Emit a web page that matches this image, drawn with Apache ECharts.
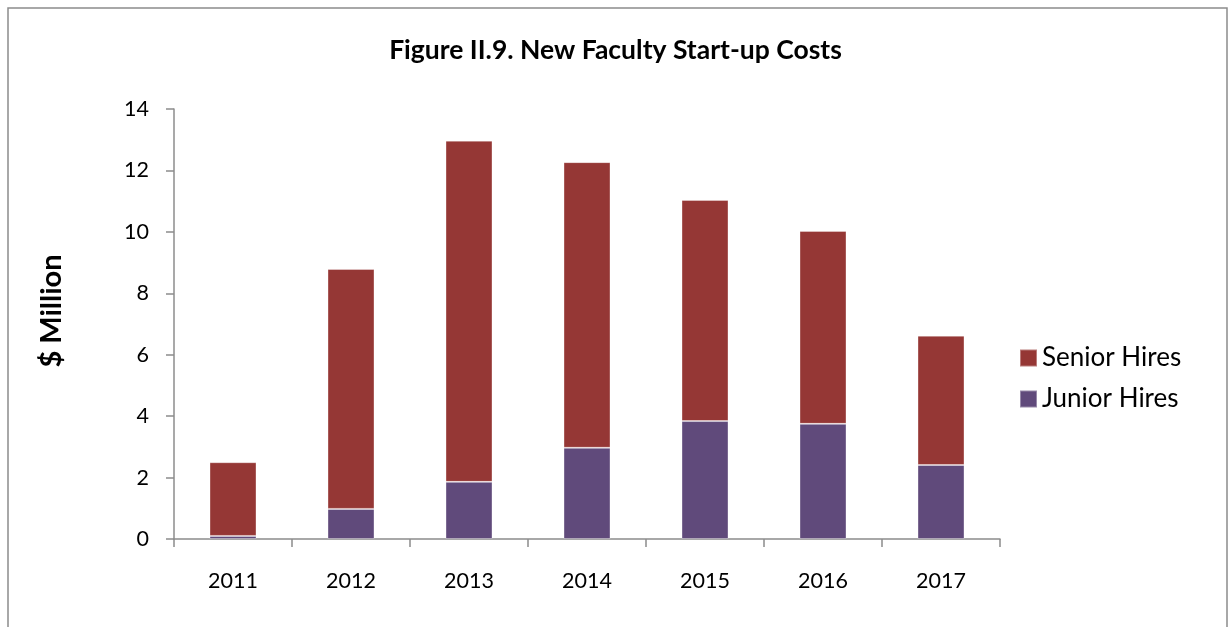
<!DOCTYPE html>
<html><head><meta charset="utf-8">
<script src="https://cdn.jsdelivr.net/npm/echarts@6/dist/echarts.min.js"></script>
<style>html,body{margin:0;padding:0;background:#fff}#c{width:1231px;height:627px}</style>
</head><body><div id="c"></div>
<script>
const years = ['2011','2012','2013','2014','2015','2016','2017'];
const juniorHires = [0.10, 0.98, 1.86, 2.97, 3.84, 3.75, 2.41];
const seniorHires = [2.40, 7.81, 11.11, 9.30, 7.20, 6.28, 4.21];
const yTicks = [0, 2, 4, 6, 8, 10, 12, 14];

const font = 'Lato, "Open Sans", sans-serif';
const chart = echarts.init(document.getElementById('c'));
chart.setOption({
  animation: false,
  backgroundColor: '#fff',
  title: {
    text: 'Figure II.9. New Faculty Start-up Costs',
    left: 'center', top: 32,
    textStyle: {fontFamily: font, fontWeight: 'bold', fontSize: 26.5, color: '#000'}
  },
  graphic: [
    {type: 'polyline', shape: {points: [[8, 627], [8, 8], [1227, 8], [1227, 627]]},
     style: {stroke: '#8c8c8c', lineWidth: 1.5, fill: null}, silent: true},
    {type: 'text', x: 52, y: 311, rotation: Math.PI / 2,
     style: {text: '$ Million', fontFamily: font, fontWeight: 'bold', fontSize: 29, fill: '#000',
             align: 'center', verticalAlign: 'middle'}, silent: true}
  ],
  legend: {
    orient: 'vertical', left: 1014, top: 340, itemGap: 15,
    itemWidth: 17, itemHeight: 17, icon: 'rect',
    data: ['Senior Hires', 'Junior Hires'],
    textStyle: {fontFamily: font, fontSize: 26, color: '#000', padding: [0, 0, 0, 0]}
  },
  grid: {left: 174, right: 231, top: 109, bottom: 88, containLabel: false},
  xAxis: {
    type: 'category', data: years,
    axisLine: {lineStyle: {color: '#8c8c8c', width: 1.5}},
    axisTick: {show: true, length: 8, alignWithLabel: false, lineStyle: {color: '#8c8c8c', width: 1.5}},
    axisLabel: {fontFamily: font, fontSize: 21.5, color: '#000', margin: 31}
  },
  yAxis: {
    type: 'value', min: 0, max: 14, interval: 2,
    axisLine: {show: true, lineStyle: {color: '#8c8c8c', width: 1.5}},
    axisTick: {show: true, length: 8, lineStyle: {color: '#8c8c8c', width: 1.5}},
    splitLine: {show: false},
    axisLabel: {fontFamily: font, fontSize: 21.5, color: '#000', margin: 25,
      formatter: v => yTicks.includes(v) ? String(v) : ''}
  },
  series: [
    {name: 'Junior Hires', type: 'bar', stack: 'total', data: juniorHires, barWidth: 47,
     itemStyle: {color: '#604A7B', borderColor: 'rgba(255,255,255,0.35)', borderWidth: 1}},
    {name: 'Senior Hires', type: 'bar', stack: 'total', data: seniorHires, barWidth: 47,
     itemStyle: {color: '#953735', borderColor: 'rgba(255,255,255,0.35)', borderWidth: 1}}
  ]
});
</script></body></html>
